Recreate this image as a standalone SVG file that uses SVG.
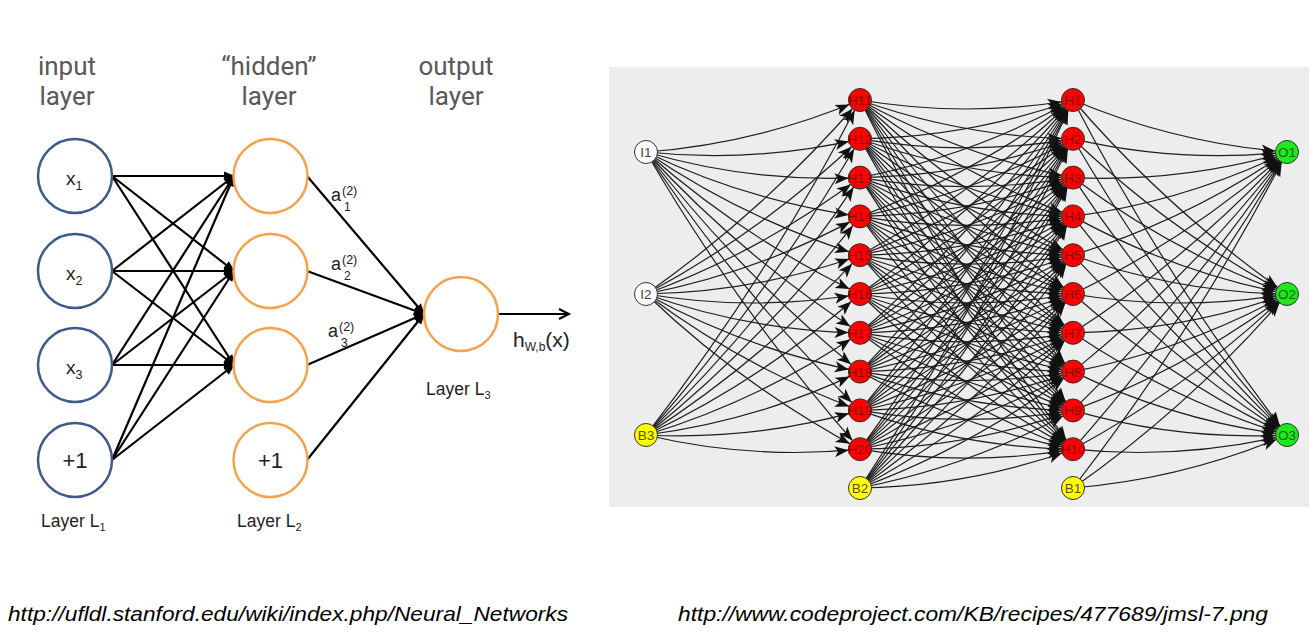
<svg xmlns="http://www.w3.org/2000/svg" width="1316" height="640" viewBox="0 0 1316 640">
<style>
.top{font-family:Roboto,"Liberation Sans",sans-serif;font-size:26px;fill:#595959;text-anchor:middle}
.inp{fill:#fff;stroke:#3d5a8c;stroke-width:2.5}
.hid{fill:#fff;stroke:#f5a24e;stroke-width:2.5}
.lt{font-family:"Liberation Sans",Arial,sans-serif;fill:#222}
.le{stroke:#000;stroke-width:2.2;fill:none;marker-end:url(#la)}
.re{stroke:#1e1e1e;stroke-width:1.2;fill:none;marker-end:url(#ra)}
.rn{stroke:#333;stroke-width:1}
.rt{font-family:"Liberation Sans",Arial,sans-serif;font-size:13.5px;text-anchor:middle}
.url{font-family:"Liberation Sans",Arial,sans-serif;font-style:italic;font-size:21px;fill:#000}
</style>
<defs>
<marker id="la" markerUnits="userSpaceOnUse" markerWidth="12" markerHeight="10" refX="10" refY="0" orient="auto" overflow="visible"><path d="M0,-4.5L11,0L0,4.5z" fill="#000"/></marker>
<marker id="lo" markerUnits="userSpaceOnUse" markerWidth="12" markerHeight="12" refX="10" refY="0" orient="auto" overflow="visible"><path d="M0,-5L10,0L0,5" fill="none" stroke="#000" stroke-width="2"/></marker>
<marker id="ra" markerUnits="userSpaceOnUse" markerWidth="30" markerHeight="14" refX="25.5" refY="0" orient="auto" overflow="visible"><path d="M0,-5.5L14,0L0,5.5L3.5,0z" fill="#111"/></marker>
</defs>
<rect width="1316" height="640" fill="#fff"/>

<g id="headings">
<text class="top" x="67" y="75">input</text><text class="top" x="67" y="105">layer</text>
<text class="top" x="269" y="75">“hidden”</text><text class="top" x="269" y="105">layer</text>
<text class="top" x="456" y="75">output</text><text class="top" x="456" y="105">layer</text>
</g>

<g id="left-connectors">
<path class="le" d="M112,176L234,176"/><path class="le" d="M112,176L234,271"/><path class="le" d="M112,176L234,365"/>
<path class="le" d="M112,271L234,176"/><path class="le" d="M112,271L234,271"/><path class="le" d="M112,271L234,365"/>
<path class="le" d="M112,365L234,176"/><path class="le" d="M112,365L234,271"/><path class="le" d="M112,365L234,365"/>
<path class="le" d="M112,460L234,176"/><path class="le" d="M112,460L234,271"/><path class="le" d="M112,460L234,365"/>
<path class="le" d="M307,176L424,314"/><path class="le" d="M307,271L424,314"/><path class="le" d="M307,365L424,314"/><path class="le" d="M307,460L424,314"/>
<path d="M498,314L569,314" stroke="#000" stroke-width="2" fill="none" marker-end="url(#lo)"/>
</g>

<g id="x1"><circle class="inp" cx="75" cy="176" r="37"/><text class="lt" x="66" y="185" font-size="19">x<tspan font-size="12.5" dy="5">1</tspan></text></g>
<g id="x2"><circle class="inp" cx="75" cy="271" r="37"/><text class="lt" x="66" y="280" font-size="19">x<tspan font-size="12.5" dy="5">2</tspan></text></g>
<g id="x3"><circle class="inp" cx="75" cy="365" r="37"/><text class="lt" x="66" y="374" font-size="19">x<tspan font-size="12.5" dy="5">3</tspan></text></g>
<g id="b1in"><circle class="inp" cx="75" cy="460" r="37"/><text class="lt" x="75" y="468" font-size="22" text-anchor="middle">+1</text></g>
<g id="h1l"><circle class="hid" cx="270.5" cy="176" r="37"/></g>
<g id="h2l"><circle class="hid" cx="270.5" cy="271" r="37"/></g>
<g id="h3l"><circle class="hid" cx="270.5" cy="365" r="37"/></g>
<g id="b2l"><circle class="hid" cx="270.5" cy="460" r="37"/><text class="lt" x="270.5" y="468" font-size="22" text-anchor="middle">+1</text></g>
<g id="outl"><circle class="hid" cx="461" cy="314" r="37"/></g>

<g id="left-labels">
<text class="lt" x="331" y="201" font-size="18">a</text><text class="lt" x="342" y="195" font-size="12.5">(2)</text><text class="lt" x="344" y="211" font-size="12">1</text>
<text class="lt" x="331" y="270" font-size="18">a</text><text class="lt" x="342" y="264" font-size="12.5">(2)</text><text class="lt" x="344" y="280" font-size="12">2</text>
<text class="lt" x="328" y="337" font-size="18">a</text><text class="lt" x="339" y="331" font-size="12.5">(2)</text><text class="lt" x="341" y="347" font-size="12">3</text>
<text class="lt" x="513" y="347" font-size="21">h<tspan font-size="12" dy="4">W,b</tspan><tspan dy="-4">(x)</tspan></text>
<text class="lt" x="41" y="527" font-size="17.5">Layer L<tspan font-size="11" dy="4">1</tspan></text>
<text class="lt" x="237" y="527" font-size="17.5">Layer L<tspan font-size="11" dy="4">2</tspan></text>
<text class="lt" x="426" y="395" font-size="17.5">Layer L<tspan font-size="11" dy="4">3</tspan></text>
</g>

<rect id="panel" x="609" y="67" width="700" height="440" fill="#ededed"/>

<g id="right-connectors">
<path class="re" d="M646,152q111.3,-8.5 214,-52"/>
<path class="re" d="M646,152q108.1,11.4 214,-13.2"/>
<path class="re" d="M646,152q104.9,30.7 214,25.6"/>
<path class="re" d="M646,152q101.8,49.4 214,64.4"/>
<path class="re" d="M646,152q99.2,67.8 214,103.2"/>
<path class="re" d="M646,152q97.1,86 214,142"/>
<path class="re" d="M646,152q95.4,104.2 214,180.8"/>
<path class="re" d="M646,152q94.1,122.4 214,219.6"/>
<path class="re" d="M646,152q93.1,140.7 214,258.4"/>
<path class="re" d="M646,152q92.4,159.1 214,297.2"/>
<path class="re" d="M646,294q119.1,-83.7 214,-194"/>
<path class="re" d="M646,294q117.6,-63 214,-155.2"/>
<path class="re" d="M646,294q115.6,-42.4 214,-116.4"/>
<path class="re" d="M646,294q113.1,-21.9 214,-77.6"/>
<path class="re" d="M646,294q110.2,-1.7 214,-38.8"/>
<path class="re" d="M646,294q107,18 214,0"/>
<path class="re" d="M646,294q103.8,37.1 214,38.8"/>
<path class="re" d="M646,294q100.9,55.7 214,77.6"/>
<path class="re" d="M646,294q98.4,74 214,116.4"/>
<path class="re" d="M646,294q96.4,92.2 214,155.2"/>
<path class="re" d="M646,435q122.2,-157.8 214,-335"/>
<path class="re" d="M646,435q121.6,-137.6 214,-296.2"/>
<path class="re" d="M646,435q120.8,-117.2 214,-257.4"/>
<path class="re" d="M646,435q119.9,-96.7 214,-218.6"/>
<path class="re" d="M646,435q118.6,-76.1 214,-179.8"/>
<path class="re" d="M646,435q116.9,-55.5 214,-141"/>
<path class="re" d="M646,435q114.8,-34.9 214,-102.2"/>
<path class="re" d="M646,435q112.1,-14.4 214,-63.4"/>
<path class="re" d="M646,435q109.1,5.6 214,-24.6"/>
<path class="re" d="M646,435q105.8,25.1 214,14.2"/>

<path class="re" d="M860,100q106.5,18 213,0"/>
<path class="re" d="M860,100q103.3,37.1 213,38.8"/>
<path class="re" d="M860,100q100.4,55.7 213,77.6"/>
<path class="re" d="M860,100q97.9,74 213,116.4"/>
<path class="re" d="M860,100q95.9,92.2 213,155.2"/>
<path class="re" d="M860,100q94.4,110.3 213,194"/>
<path class="re" d="M860,100q93.3,128.6 213,232.8"/>
<path class="re" d="M860,100q92.4,146.9 213,271.6"/>
<path class="re" d="M860,100q91.7,165.4 213,310.4"/>
<path class="re" d="M860,100q91.2,184 213,349.2"/>

<path class="re" d="M860,138.8q109.7,-1.7 213,-38.8"/>
<path class="re" d="M860,138.8q106.5,18 213,0"/>
<path class="re" d="M860,138.8q103.3,37.1 213,38.8"/>
<path class="re" d="M860,138.8q100.4,55.7 213,77.6"/>
<path class="re" d="M860,138.8q97.9,74 213,116.4"/>
<path class="re" d="M860,138.8q95.9,92.2 213,155.2"/>
<path class="re" d="M860,138.8q94.4,110.3 213,194"/>
<path class="re" d="M860,138.8q93.3,128.6 213,232.8"/>
<path class="re" d="M860,138.8q92.4,146.9 213,271.6"/>
<path class="re" d="M860,138.8q91.7,165.4 213,310.4"/>

<path class="re" d="M860,177.6q112.6,-21.9 213,-77.6"/>
<path class="re" d="M860,177.6q109.7,-1.7 213,-38.8"/>
<path class="re" d="M860,177.6q106.5,18 213,0"/>
<path class="re" d="M860,177.6q103.3,37.1 213,38.8"/>
<path class="re" d="M860,177.6q100.4,55.7 213,77.6"/>
<path class="re" d="M860,177.6q97.9,74 213,116.4"/>
<path class="re" d="M860,177.6q95.9,92.2 213,155.2"/>
<path class="re" d="M860,177.6q94.4,110.3 213,194"/>
<path class="re" d="M860,177.6q93.3,128.6 213,232.8"/>
<path class="re" d="M860,177.6q92.4,146.9 213,271.6"/>

<path class="re" d="M860,216.4q115.1,-42.4 213,-116.4"/>
<path class="re" d="M860,216.4q112.6,-21.9 213,-77.6"/>
<path class="re" d="M860,216.4q109.7,-1.7 213,-38.8"/>
<path class="re" d="M860,216.4q106.5,18 213,0"/>
<path class="re" d="M860,216.4q103.3,37.1 213,38.8"/>
<path class="re" d="M860,216.4q100.4,55.7 213,77.6"/>
<path class="re" d="M860,216.4q97.9,74 213,116.4"/>
<path class="re" d="M860,216.4q95.9,92.2 213,155.2"/>
<path class="re" d="M860,216.4q94.4,110.3 213,194"/>
<path class="re" d="M860,216.4q93.3,128.6 213,232.8"/>

<path class="re" d="M860,255.2q117.1,-63 213,-155.2"/>
<path class="re" d="M860,255.2q115.1,-42.4 213,-116.4"/>
<path class="re" d="M860,255.2q112.6,-21.9 213,-77.6"/>
<path class="re" d="M860,255.2q109.7,-1.7 213,-38.8"/>
<path class="re" d="M860,255.2q106.5,18 213,0"/>
<path class="re" d="M860,255.2q103.3,37.1 213,38.8"/>
<path class="re" d="M860,255.2q100.4,55.7 213,77.6"/>
<path class="re" d="M860,255.2q97.9,74 213,116.4"/>
<path class="re" d="M860,255.2q95.9,92.2 213,155.2"/>
<path class="re" d="M860,255.2q94.4,110.3 213,194"/>

<path class="re" d="M860,294q118.6,-83.7 213,-194"/>
<path class="re" d="M860,294q117.1,-63 213,-155.2"/>
<path class="re" d="M860,294q115.1,-42.4 213,-116.4"/>
<path class="re" d="M860,294q112.6,-21.9 213,-77.6"/>
<path class="re" d="M860,294q109.7,-1.7 213,-38.8"/>
<path class="re" d="M860,294q106.5,18 213,0"/>
<path class="re" d="M860,294q103.3,37.1 213,38.8"/>
<path class="re" d="M860,294q100.4,55.7 213,77.6"/>
<path class="re" d="M860,294q97.9,74 213,116.4"/>
<path class="re" d="M860,294q95.9,92.2 213,155.2"/>

<path class="re" d="M860,332.8q119.8,-104.2 213,-232.8"/>
<path class="re" d="M860,332.8q118.6,-83.7 213,-194"/>
<path class="re" d="M860,332.8q117.1,-63 213,-155.2"/>
<path class="re" d="M860,332.8q115.1,-42.4 213,-116.4"/>
<path class="re" d="M860,332.8q112.6,-21.9 213,-77.6"/>
<path class="re" d="M860,332.8q109.7,-1.7 213,-38.8"/>
<path class="re" d="M860,332.8q106.5,18 213,0"/>
<path class="re" d="M860,332.8q103.3,37.1 213,38.8"/>
<path class="re" d="M860,332.8q100.4,55.7 213,77.6"/>
<path class="re" d="M860,332.8q97.9,74 213,116.4"/>

<path class="re" d="M860,371.6q120.6,-124.7 213,-271.6"/>
<path class="re" d="M860,371.6q119.8,-104.2 213,-232.8"/>
<path class="re" d="M860,371.6q118.6,-83.7 213,-194"/>
<path class="re" d="M860,371.6q117.1,-63 213,-155.2"/>
<path class="re" d="M860,371.6q115.1,-42.4 213,-116.4"/>
<path class="re" d="M860,371.6q112.6,-21.9 213,-77.6"/>
<path class="re" d="M860,371.6q109.7,-1.7 213,-38.8"/>
<path class="re" d="M860,371.6q106.5,18 213,0"/>
<path class="re" d="M860,371.6q103.3,37.1 213,38.8"/>
<path class="re" d="M860,371.6q100.4,55.7 213,77.6"/>

<path class="re" d="M860,410.4q121.3,-145 213,-310.4"/>
<path class="re" d="M860,410.4q120.6,-124.7 213,-271.6"/>
<path class="re" d="M860,410.4q119.8,-104.2 213,-232.8"/>
<path class="re" d="M860,410.4q118.6,-83.7 213,-194"/>
<path class="re" d="M860,410.4q117.1,-63 213,-155.2"/>
<path class="re" d="M860,410.4q115.1,-42.4 213,-116.4"/>
<path class="re" d="M860,410.4q112.6,-21.9 213,-77.6"/>
<path class="re" d="M860,410.4q109.7,-1.7 213,-38.8"/>
<path class="re" d="M860,410.4q106.5,18 213,0"/>
<path class="re" d="M860,410.4q103.3,37.1 213,38.8"/>

<path class="re" d="M860,449.2q121.9,-165.2 213,-349.2"/>
<path class="re" d="M860,449.2q121.3,-145 213,-310.4"/>
<path class="re" d="M860,449.2q120.6,-124.7 213,-271.6"/>
<path class="re" d="M860,449.2q119.8,-104.2 213,-232.8"/>
<path class="re" d="M860,449.2q118.6,-83.7 213,-194"/>
<path class="re" d="M860,449.2q117.1,-63 213,-155.2"/>
<path class="re" d="M860,449.2q115.1,-42.4 213,-116.4"/>
<path class="re" d="M860,449.2q112.6,-21.9 213,-77.6"/>
<path class="re" d="M860,449.2q109.7,-1.7 213,-38.8"/>
<path class="re" d="M860,449.2q106.5,18 213,0"/>

<path class="re" d="M860,488q122.3,-185.3 213,-388"/>
<path class="re" d="M860,488q121.9,-165.2 213,-349.2"/>
<path class="re" d="M860,488q121.3,-145 213,-310.4"/>
<path class="re" d="M860,488q120.6,-124.7 213,-271.6"/>
<path class="re" d="M860,488q119.8,-104.2 213,-232.8"/>
<path class="re" d="M860,488q118.6,-83.7 213,-194"/>
<path class="re" d="M860,488q117.1,-63 213,-155.2"/>
<path class="re" d="M860,488q115.1,-42.4 213,-116.4"/>
<path class="re" d="M860,488q112.6,-21.9 213,-77.6"/>
<path class="re" d="M860,488q109.7,-1.7 213,-38.8"/>

<path class="re" d="M1073,100q102.8,43.5 214,52"/>
<path class="re" d="M1073,138.8q105.9,24.6 214,13.2"/>
<path class="re" d="M1073,177.6q109.1,5.1 214,-25.6"/>
<path class="re" d="M1073,216.4q112.2,-15 214,-64.4"/>
<path class="re" d="M1073,255.2q114.8,-35.4 214,-103.2"/>
<path class="re" d="M1073,294q117,-56 214,-142"/>
<path class="re" d="M1073,332.8q118.6,-76.7 214,-180.8"/>
<path class="re" d="M1073,371.6q119.9,-97.2 214,-219.6"/>
<path class="re" d="M1073,410.4q120.9,-117.7 214,-258.4"/>
<path class="re" d="M1073,449.2q121.6,-138.1 214,-297.2"/>
<path class="re" d="M1073,488q122.2,-158.3 214,-336"/>

<path class="re" d="M1073,100q94.9,110.3 214,194"/>
<path class="re" d="M1073,138.8q96.4,92.2 214,155.2"/>
<path class="re" d="M1073,177.6q98.4,74 214,116.4"/>
<path class="re" d="M1073,216.4q100.9,55.7 214,77.6"/>
<path class="re" d="M1073,255.2q103.8,37.1 214,38.8"/>
<path class="re" d="M1073,294q107,18 214,0"/>
<path class="re" d="M1073,332.8q110.2,-1.7 214,-38.8"/>
<path class="re" d="M1073,371.6q113.1,-21.9 214,-77.6"/>
<path class="re" d="M1073,410.4q115.6,-42.4 214,-116.4"/>
<path class="re" d="M1073,449.2q117.6,-63 214,-155.2"/>
<path class="re" d="M1073,488q119.1,-83.7 214,-194"/>

<path class="re" d="M1073,100q91.8,177.2 214,335"/>
<path class="re" d="M1073,138.8q92.4,158.6 214,296.2"/>
<path class="re" d="M1073,177.6q93.2,140.2 214,257.4"/>
<path class="re" d="M1073,216.4q94.1,121.9 214,218.6"/>
<path class="re" d="M1073,255.2q95.4,103.7 214,179.8"/>
<path class="re" d="M1073,294q97.1,85.5 214,141"/>
<path class="re" d="M1073,332.8q99.2,67.3 214,102.2"/>
<path class="re" d="M1073,371.6q101.9,49 214,63.4"/>
<path class="re" d="M1073,410.4q104.9,30.2 214,24.6"/>
<path class="re" d="M1073,449.2q108.2,10.9 214,-14.2"/>
<path class="re" d="M1073,488q111.3,-9 214,-53"/>
</g>

<g id="I1"><circle class="rn" cx="646" cy="152" r="11.5" fill="#fff"/><text class="rt" x="646" y="157" fill="#444">I1</text></g>
<g id="I2"><circle class="rn" cx="646" cy="294" r="11.5" fill="#fff"/><text class="rt" x="646" y="299" fill="#444">I2</text></g>
<g id="B3"><circle class="rn" cx="646" cy="435" r="11.5" fill="#ffff00"/><text class="rt" x="646" y="440" fill="#555500">B3</text></g>

<g id="H11"><circle class="rn" cx="860" cy="100" r="11.5" fill="#f00"/><text class="rt" x="860" y="105" fill="#8a0000">H11</text></g>
<g id="H12"><circle class="rn" cx="860" cy="138.8" r="11.5" fill="#f00"/><text class="rt" x="860" y="143.8" fill="#8a0000">H12</text></g>
<g id="H13"><circle class="rn" cx="860" cy="177.6" r="11.5" fill="#f00"/><text class="rt" x="860" y="182.6" fill="#8a0000">H13</text></g>
<g id="H14"><circle class="rn" cx="860" cy="216.4" r="11.5" fill="#f00"/><text class="rt" x="860" y="221.4" fill="#8a0000">H14</text></g>
<g id="H15"><circle class="rn" cx="860" cy="255.2" r="11.5" fill="#f00"/><text class="rt" x="860" y="260.2" fill="#8a0000">H15</text></g>
<g id="H16"><circle class="rn" cx="860" cy="294" r="11.5" fill="#f00"/><text class="rt" x="860" y="299" fill="#8a0000">H16</text></g>
<g id="H17"><circle class="rn" cx="860" cy="332.8" r="11.5" fill="#f00"/><text class="rt" x="860" y="337.8" fill="#8a0000">H17</text></g>
<g id="H18"><circle class="rn" cx="860" cy="371.6" r="11.5" fill="#f00"/><text class="rt" x="860" y="376.6" fill="#8a0000">H18</text></g>
<g id="H19"><circle class="rn" cx="860" cy="410.4" r="11.5" fill="#f00"/><text class="rt" x="860" y="415.4" fill="#8a0000">H19</text></g>
<g id="H20"><circle class="rn" cx="860" cy="449.2" r="11.5" fill="#f00"/><text class="rt" x="860" y="454.2" fill="#8a0000">H20</text></g>
<g id="B2"><circle class="rn" cx="860" cy="488" r="11.5" fill="#ffff00"/><text class="rt" x="860" y="493" fill="#555500">B2</text></g>

<g id="H1"><circle class="rn" cx="1073" cy="100" r="11.5" fill="#f00"/><text class="rt" x="1073" y="105" fill="#8a0000">H1</text></g>
<g id="H2"><circle class="rn" cx="1073" cy="138.8" r="11.5" fill="#f00"/><text class="rt" x="1073" y="143.8" fill="#8a0000">H2</text></g>
<g id="H3"><circle class="rn" cx="1073" cy="177.6" r="11.5" fill="#f00"/><text class="rt" x="1073" y="182.6" fill="#8a0000">H3</text></g>
<g id="H4"><circle class="rn" cx="1073" cy="216.4" r="11.5" fill="#f00"/><text class="rt" x="1073" y="221.4" fill="#8a0000">H4</text></g>
<g id="H5"><circle class="rn" cx="1073" cy="255.2" r="11.5" fill="#f00"/><text class="rt" x="1073" y="260.2" fill="#8a0000">H5</text></g>
<g id="H6"><circle class="rn" cx="1073" cy="294" r="11.5" fill="#f00"/><text class="rt" x="1073" y="299" fill="#8a0000">H6</text></g>
<g id="H7"><circle class="rn" cx="1073" cy="332.8" r="11.5" fill="#f00"/><text class="rt" x="1073" y="337.8" fill="#8a0000">H7</text></g>
<g id="H8"><circle class="rn" cx="1073" cy="371.6" r="11.5" fill="#f00"/><text class="rt" x="1073" y="376.6" fill="#8a0000">H8</text></g>
<g id="H9"><circle class="rn" cx="1073" cy="410.4" r="11.5" fill="#f00"/><text class="rt" x="1073" y="415.4" fill="#8a0000">H9</text></g>
<g id="H10"><circle class="rn" cx="1073" cy="449.2" r="11.5" fill="#f00"/><text class="rt" x="1073" y="454.2" fill="#8a0000">H10</text></g>
<g id="B1"><circle class="rn" cx="1073" cy="488" r="11.5" fill="#ffff00"/><text class="rt" x="1073" y="493" fill="#555500">B1</text></g>

<g id="O1"><circle class="rn" cx="1287" cy="152" r="11.5" fill="#1ee81e"/><text class="rt" x="1287" y="157" fill="#0a6a0a">O1</text></g>
<g id="O2"><circle class="rn" cx="1287" cy="294" r="11.5" fill="#1ee81e"/><text class="rt" x="1287" y="299" fill="#0a6a0a">O2</text></g>
<g id="O3"><circle class="rn" cx="1287" cy="435" r="11.5" fill="#1ee81e"/><text class="rt" x="1287" y="440" fill="#0a6a0a">O3</text></g>

<g id="sources">
<text class="url" x="8" y="621" textLength="560" lengthAdjust="spacingAndGlyphs">http://ufldl.stanford.edu/wiki/index.php/Neural_Networks</text>
<text class="url" x="678" y="621" textLength="590" lengthAdjust="spacingAndGlyphs">http://www.codeproject.com/KB/recipes/477689/jmsl-7.png</text>
</g>
</svg>
